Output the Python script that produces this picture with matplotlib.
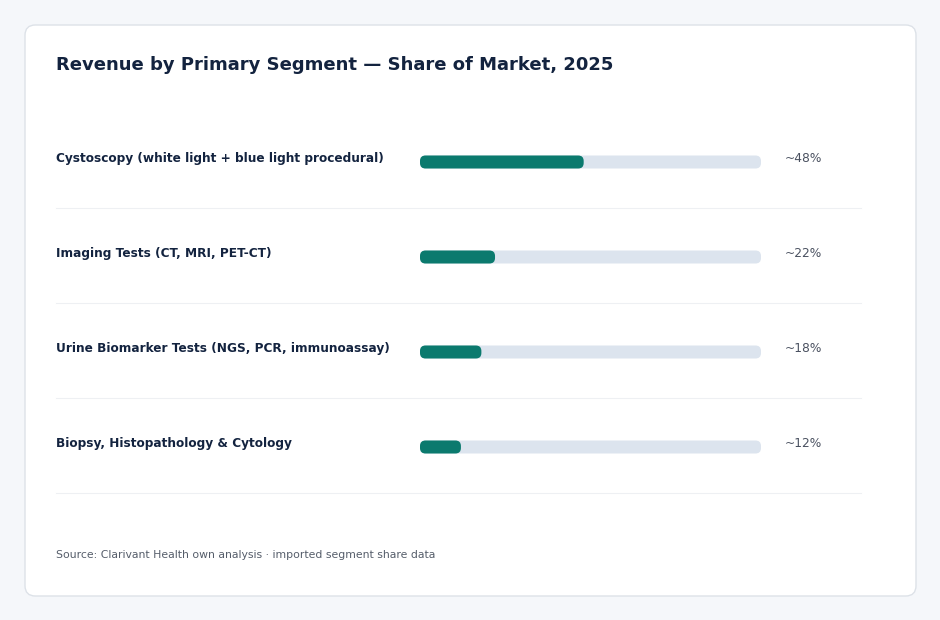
import matplotlib.pyplot as plt
from matplotlib.patches import FancyBboxPatch
from matplotlib.transforms import blended_transform_factory

# Données
segments = [
    "Cystoscopy (white light + blue light procedural)",
    "Imaging Tests (CT, MRI, PET-CT)",
    "Urine Biomarker Tests (NGS, PCR, immunoassay)",
    "Biopsy, Histopathology & Cytology",
]
share = [48, 22, 18, 12]
share_labels = ["~48%", "~22%", "~18%", "~12%"]

W, H = 940, 620
fig = plt.figure(figsize=(W / 100, H / 100), dpi=100)
fig.patch.set_facecolor("#f5f7fa")

# Carte blanche arrondie
card = FancyBboxPatch((25 / W, 1 - 596 / H), 891 / W, 571 / H,
                      boxstyle="round,pad=0,rounding_size=0.011",
                      mutation_aspect=W / H, transform=fig.transFigure,
                      facecolor="white", edgecolor="#dde2e8", linewidth=1,
                      zorder=0)
fig.patches.append(card)

fig.text(56 / W, 1 - 65 / H, "Revenue by Primary Segment — Share of Market, 2025",
         fontsize=13, fontweight="bold", color="#13233f", va="center")

# Axe des barres : 0-100 % sur la piste
row_px = 95
ax = fig.add_axes([420 / W, 1 - 494.5 / H, 341 / W, 4 * row_px / H])
ax.set_zorder(2)
ax.patch.set_alpha(0)
ax.set_xlim(0, 100)
ax.set_ylim(len(segments) - 0.5, -0.5)
ax.axis("off")

bar_h = 13 / row_px
px_x = 341 / 100
r = 5.5 / px_x
asp = px_x / row_px

tr = blended_transform_factory(fig.transFigure, ax.transData)
for i, (lab, v, vl) in enumerate(zip(segments, share, share_labels)):
    track = FancyBboxPatch((0, i - bar_h / 2), 100, bar_h,
                           boxstyle="round,pad=0,rounding_size=%f" % r,
                           mutation_aspect=asp, facecolor="#dce4ee",
                           edgecolor="none", clip_on=False)
    ax.add_patch(track)
    fill = FancyBboxPatch((0, i - bar_h / 2), v, bar_h,
                          boxstyle="round,pad=0,rounding_size=%f" % r,
                          mutation_aspect=asp, facecolor="#0b7a6e",
                          edgecolor="none", clip_on=False)
    ax.add_patch(fill)
    off = 3.5 / row_px
    ax.text(56 / W, i - off, lab, transform=tr, fontsize=8.7, fontweight="bold",
            color="#13233f", va="center", ha="left")
    ax.text(785 / W, i - off, vl, transform=tr, fontsize=8.8, color="#4a5160",
            va="center", ha="left")
    ax.plot([56 / W, 861 / W], [i + 46 / row_px] * 2, transform=tr,
            color="#eef0f3", linewidth=0.8, clip_on=False)

fig.text(56 / W, 1 - 555 / H,
         "Source: Clarivant Health own analysis · imported segment share data",
         fontsize=7.8, color="#555d6a", va="center")

fig.savefig("out.png", dpi=100, facecolor=fig.get_facecolor())
